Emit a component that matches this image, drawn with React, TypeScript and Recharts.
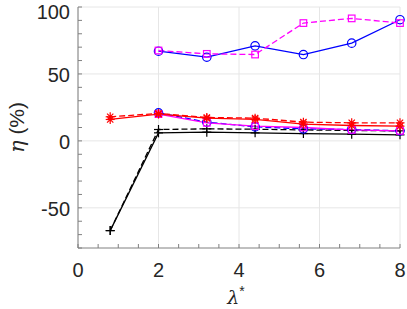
import React from 'react';
import { LineChart, Line, XAxis, YAxis, CartesianGrid } from 'recharts';

// lambda* sample points
const lambdas = [0.8, 2, 3.2, 4.4, 5.6, 6.8, 8];

// eta (%) per curve, null where the curve has no point
const blueUpper = [null, 67, 62.5, 71, 64.5, 73, 90.5];
const magentaUpper = [null, 67.5, 65, 64.5, 88, 91.5, 88];
const redSolid = [16, 20, 17, 16, 12.5, 11.5, 11];
const redDashed = [18, 20.5, 17.5, 17, 14, 13.5, 13.5];
const blueLower = [null, 21, 14, 10.5, 9, 8.5, 7.5];
const magentaLower = [null, 20, 13.5, 11, 10, 8.2, 7.5];
const blackSolid = [-67, 6, 6.5, 6, 5.5, 5, 4.5];
const blackDashed = [-67, 8.5, 9, 8.7, 8.2, 7.8, 7.5];

const xTicks = [0, 2, 4, 6, 8];
const yTicks = [-50, 0, 50, 100];
const xMinorTicks = [0, 0.5, 1, 1.5, 2, 2.5, 3, 3.5, 4, 4.5, 5, 5.5, 6, 6.5, 7, 7.5, 8];
const yMinorTicks = [-80, -70, -60, -50, -40, -30, -20, -10, 0, 10, 20, 30, 40, 50, 60, 70, 80, 90, 100];

const data = lambdas.map((x, i) => ({
  x,
  blackSolid: blackSolid[i],
  blackDashed: blackDashed[i],
  blueUpper: blueUpper[i],
  blueLower: blueLower[i],
  magentaUpper: magentaUpper[i],
  magentaLower: magentaLower[i],
  redSolid: redSolid[i],
  redDashed: redDashed[i],
}));

const AXIS = '#808080';
const TEXT = '#262626';
const FONT = '"Liberation Sans", Arial, Helvetica, sans-serif';

type Shape = 'circle' | 'square' | 'plus' | 'star';

const marker = (shape: Shape, color: string) => (props: any) => {
  const { cx, cy, index, value } = props;
  if (cx == null || cy == null || value == null) return <g key={`m-${index}`} />;
  const sw = 1.2;
  if (shape === 'circle')
    return <circle key={`m-${index}`} cx={cx} cy={cy} r={4.2} fill="none" stroke={color} strokeWidth={sw} />;
  if (shape === 'square')
    return <rect key={`m-${index}`} x={cx - 3.3} y={cy - 3.3} width={6.6} height={6.6} fill="none" stroke={color} strokeWidth={sw} />;
  const r = 4.5;
  const d = r * 0.7;
  return (
    <g key={`m-${index}`} stroke={color} strokeWidth={sw}>
      <line x1={cx - r} y1={cy} x2={cx + r} y2={cy} />
      <line x1={cx} y1={cy - r} x2={cx} y2={cy + r} />
      {shape === 'star' && (
        <>
          <line x1={cx - d} y1={cy - d} x2={cx + d} y2={cy + d} />
          <line x1={cx - d} y1={cy + d} x2={cx + d} y2={cy - d} />
        </>
      )}
    </g>
  );
};

const XTick = (props: any) => {
  const { x, y, payload } = props;
  return (
    <g>
      <line x1={x} y1={y} x2={x} y2={y - 4} stroke={AXIS} />
      {xTicks.includes(payload.value) && (
        <text x={x} y={y + 29} textAnchor="middle" fill={TEXT} fontSize={20} fontFamily={FONT}>
          {payload.value}
        </text>
      )}
    </g>
  );
};

const YTick = (props: any) => {
  const { x, y, payload } = props;
  return (
    <g>
      <line x1={x} y1={y} x2={x + 4} y2={y} stroke={AXIS} />
      {yTicks.includes(payload.value) && (
        <text x={x - 8} y={Math.max(y + 8, 19)} textAnchor="end" fill={TEXT} fontSize={20} fontFamily={FONT}>
          {payload.value}
        </text>
      )}
    </g>
  );
};

const XTitle = (props: any) => {
  const { viewBox } = props;
  const cx = viewBox.x + viewBox.width / 2 - 3;
  return (
    <text x={cx} y={304} textAnchor="middle" fill={TEXT} fontSize={19} fontFamily={FONT}>
      <tspan fontStyle="italic" fontFamily='"DejaVu Serif", serif'>λ</tspan>
      <tspan dy={-8} fontSize={14}>*</tspan>
    </text>
  );
};

const YTitle = (props: any) => {
  const { viewBox } = props;
  const cy = viewBox.y + viewBox.height / 2;
  return (
    <text
      x={0}
      y={0}
      transform={`translate(24, ${cy}) rotate(-90)`}
      textAnchor="middle"
      fill={TEXT}
      fontSize={21}
      fontFamily={FONT}
    >
      <tspan fontStyle="italic" fontFamily='"DejaVu Serif", serif'>η</tspan>
      <tspan> (%)</tspan>
    </text>
  );
};

export default function App() {
  const lw = 1.3;
  const dash = '6 3';
  return (
    <div style={{ position: 'fixed', left: 0, top: 0, width: 407, height: 309, background: '#fff' }}>
      <LineChart width={407} height={309} data={data} margin={{ top: 7, right: 7, left: 0, bottom: 0 }}>
        <CartesianGrid stroke="#e6e6e6" horizontalValues={yTicks} verticalValues={xTicks} />
        <XAxis
          type="number"
          dataKey="x"
          domain={[0, 8]}
          ticks={xMinorTicks}
          interval={0}
          height={61}
          stroke={AXIS}
          tickLine={false}
          tickSize={0}
          tickMargin={0}
          tick={<XTick />}
          label={<XTitle />}
        />
        <YAxis
          type="number"
          domain={[-80, 100]}
          ticks={yMinorTicks}
          interval={0}
          width={78}
          stroke={AXIS}
          tickLine={false}
          tickSize={0}
          tickMargin={0}
          tick={<YTick />}
          label={<YTitle />}
        />
        <Line dataKey="blackSolid" stroke="#000" strokeWidth={lw} dot={marker('plus', '#000')} isAnimationActive={false} />
        <Line dataKey="blackDashed" stroke="#000" strokeWidth={lw} strokeDasharray={dash} dot={marker('plus', '#000')} isAnimationActive={false} />
        <Line dataKey="blueLower" stroke="#0000ff" strokeWidth={lw} strokeDasharray={dash} dot={marker('circle', '#0000ff')} isAnimationActive={false} />
        <Line dataKey="magentaLower" stroke="#ff00ff" strokeWidth={lw} dot={marker('square', '#ff00ff')} isAnimationActive={false} />
        <Line dataKey="redSolid" stroke="#ff0000" strokeWidth={lw} dot={marker('star', '#ff0000')} isAnimationActive={false} />
        <Line dataKey="redDashed" stroke="#ff0000" strokeWidth={lw} strokeDasharray={dash} dot={marker('star', '#ff0000')} isAnimationActive={false} />
        <Line dataKey="blueUpper" stroke="#0000ff" strokeWidth={lw} dot={marker('circle', '#0000ff')} isAnimationActive={false} />
        <Line dataKey="magentaUpper" stroke="#ff00ff" strokeWidth={lw} strokeDasharray={dash} dot={marker('square', '#ff00ff')} isAnimationActive={false} />
      </LineChart>
    </div>
  );
}
